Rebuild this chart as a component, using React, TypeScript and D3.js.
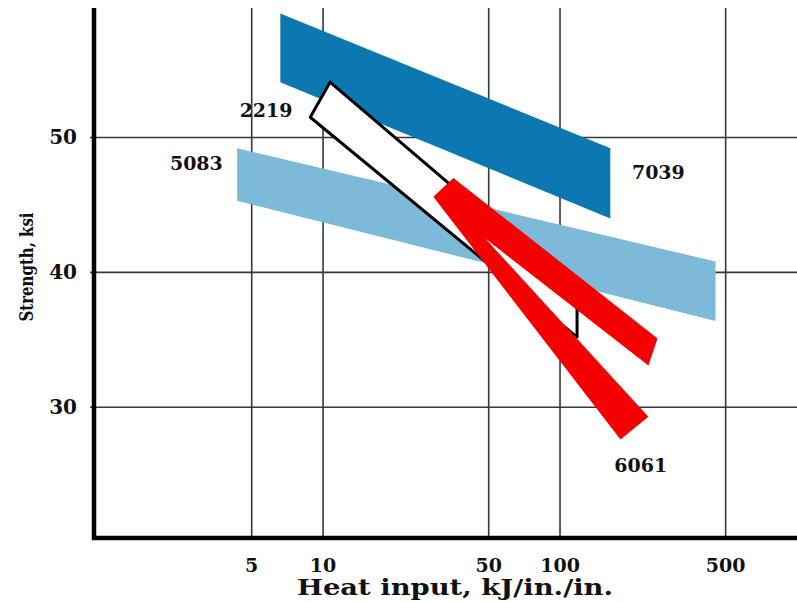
import React, { useEffect, useRef } from "react";
import * as d3 from "d3";

// heat input (kJ/in./in.) vs strength (ksi), bands
const xTicks = [5, 10, 50, 100, 500];
const yTicks = [30, 40, 50];

const band5083: [number, number][] = [[4.34, 49.2], [453, 40.8], [453, 36.4], [4.34, 45.3]];
const band7039: [number, number][] = [[6.6, 59.2], [163, 49.2], [163, 44.0], [6.6, 54.1]];
const band2219: [number, number][] = [[10.7, 54.1], [118, 38.5], [118, 35.2], [8.83, 51.5]];
const band6061: [number, number][] = [
  [35.5, 47.0], [258, 35.1], [236, 33.1], [48.4, 42.5], [236, 29.3], [180, 27.6], [29.2, 45.6],
];

const labels = [
  { text: "2219", x: 5.75, y: 52.0 },
  { text: "5083", x: 2.92, y: 48.1 },
  { text: "7039", x: 260, y: 47.4 },
  { text: "6061", x: 219, y: 25.7 },
];

export default function App() {
  const ref = useRef<SVGSVGElement>(null);

  useEffect(() => {
    const svg = d3.select(ref.current);
    svg.selectAll("*").remove();

    const width = 797;
    const left = 94;
    const top = 8;
    const bottom = 538;

    const x = d3.scaleLog().domain([1.08, 1000]).range([left, width]);
    const y = d3.scaleLinear().domain([20.3, 59.6]).range([bottom, top]);
    const font = "'DejaVu Serif', serif";

    // grid
    svg.append("g").selectAll("line").data(xTicks).enter().append("line")
      .attr("x1", d => x(d)).attr("x2", d => x(d))
      .attr("y1", top).attr("y2", bottom)
      .attr("stroke", "#383838").attr("stroke-width", 1.6);
    svg.append("g").selectAll("line").data(yTicks).enter().append("line")
      .attr("x1", left - 4).attr("x2", width)
      .attr("y1", d => y(d)).attr("y2", d => y(d))
      .attr("stroke", "#383838").attr("stroke-width", 1.6);

    const line = d3.line<[number, number]>().x(d => x(d[0])).y(d => y(d[1]));
    const poly = (pts: [number, number][]) => line(pts) + "Z";

    svg.append("path").attr("d", poly(band5083)).attr("fill", "#7dbad9");
    svg.append("path").attr("d", poly(band7039)).attr("fill", "#0b78b2");
    svg.append("path").attr("d", poly(band2219))
      .attr("fill", "#ffffff").attr("stroke", "#000").attr("stroke-width", 3)
      .attr("stroke-linejoin", "round");
    svg.append("path").attr("d", poly(band6061)).attr("fill", "#f50000");

    // axes
    svg.append("line").attr("x1", left).attr("x2", left).attr("y1", top).attr("y2", bottom + 2)
      .attr("stroke", "#000").attr("stroke-width", 4.5);
    svg.append("line").attr("x1", left - 2).attr("x2", width).attr("y1", bottom).attr("y2", bottom)
      .attr("stroke", "#000").attr("stroke-width", 4.5);

    // tick labels
    svg.append("g").selectAll("text").data(yTicks).enter().append("text")
      .attr("x", 77).attr("y", d => y(d)).attr("dy", "0.35em")
      .attr("text-anchor", "end").attr("font-family", font).attr("font-weight", "bold")
      .attr("font-size", 20).attr("fill", "#111").text(d => d);
    svg.append("g").selectAll("text").data(xTicks).enter().append("text")
      .attr("x", d => x(d)).attr("y", 565).attr("dy", "0.35em")
      .attr("text-anchor", "middle").attr("font-family", font).attr("font-weight", "bold")
      .attr("font-size", 19).attr("fill", "#111").text(d => d);

    // band labels
    svg.append("g").selectAll("text").data(labels).enter().append("text")
      .attr("x", d => x(d.x)).attr("y", d => y(d.y)).attr("dy", "0.35em")
      .attr("text-anchor", "middle").attr("font-family", font).attr("font-weight", "bold")
      .attr("font-size", 19).attr("fill", "#111").text(d => d.text);

    // axis titles
    svg.append("text").attr("x", 455).attr("y", 595)
      .attr("text-anchor", "middle").attr("font-family", font).attr("font-weight", "bold")
      .attr("font-size", 22.5).attr("textLength", 316).attr("lengthAdjust", "spacingAndGlyphs")
      .attr("fill", "#111").text("Heat input, kJ/in./in.");
    svg.append("text")
      .attr("transform", "translate(26,267) rotate(-90)").attr("dy", "0.35em")
      .attr("text-anchor", "middle").attr("font-family", font).attr("font-weight", "bold")
      .attr("font-size", 19).attr("textLength", 109).attr("lengthAdjust", "spacingAndGlyphs")
      .attr("fill", "#111").text("Strength, ksi");
  }, []);

  return (
    <svg ref={ref} width={797} height={602}
      style={{ position: "absolute", left: 0, top: 0, background: "#fff" }} />
  );
}
